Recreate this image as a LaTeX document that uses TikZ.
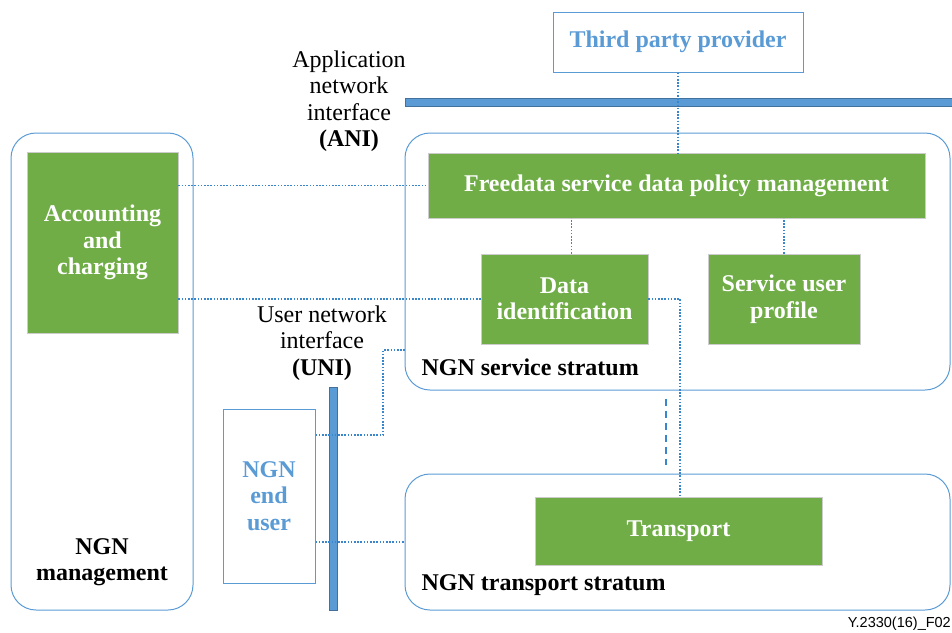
\documentclass[tikz,border=0pt]{standalone}
\usepackage{fontspec}
\setmainfont{Liberation Serif}
\setsansfont{Liberation Sans}
\definecolor{ngngreen}{HTML}{70AD47}
\definecolor{ngnblue}{HTML}{5B9BD5}
\definecolor{bardark}{HTML}{41719C}
\definecolor{linkblue}{HTML}{3A86CC}

\begin{document}
\begin{tikzpicture}[x=1pt, y=-1pt,
  font=\fontsize{24}{26.5}\selectfont,
  greenbox/.style={draw=black!20, line width=0.8pt, fill=ngngreen, text=white,
    font=\fontsize{24}{26.5}\selectfont\bfseries, align=center, inner sep=0pt},
  stratum/.style={draw=ngnblue, line width=1pt, rounded corners=25pt, inner sep=0pt},
  ifbar/.style={draw=bardark, fill=ngnblue, line width=0.8pt, inner sep=0pt},
  link/.style={linkblue, dash pattern=on 1.6pt off 1.6pt, line width=1.4pt}]

  \useasboundingbox (0,0) rectangle (952,632);

  % Third party provider
  \node[draw=ngnblue, line width=1pt, minimum width=250pt, minimum height=60pt,
    text=ngnblue, font=\fontsize{24}{26.5}\selectfont\bfseries] (tpp) at (678,42) {Third party provider};

  % Application network interface
  \node[ifbar, minimum width=547pt, minimum height=8pt] (ani) at (678.5,102) {};
  \node[align=center] (anilabel) at (349,101) {Application\\network\\interface\\\textbf{(ANI)}};

  % NGN management
  \node[stratum, minimum width=182pt, minimum height=477pt] (mgmt) at (102,371.5) {};
  \node[greenbox, minimum width=151pt, minimum height=181pt] (acct) at (102.5,242.5) {Accounting\\and\\charging};
  \node[align=center, font=\fontsize{24}{26.5}\selectfont\bfseries] (mgmtlabel) at (102,562) {NGN\\management};

  % NGN service stratum
  \node[stratum, minimum width=545pt, minimum height=257pt] (service) at (677.5,261.5) {};
  \node[greenbox, minimum width=497pt, minimum height=65pt] (policy) at (676.5,185.5) {Freedata service data policy management};
  \node[greenbox, minimum width=167pt, minimum height=90pt] (dataid) at (564.5,299) {Data\\identification};
  \node[greenbox, minimum width=152pt, minimum height=90pt] (profile) at (784,299) {Service user\\profile};
  \node[anchor=west, font=\fontsize{24}{26.5}\selectfont\bfseries] (servicelabel) at (418,367) {NGN service stratum};

  % NGN transport stratum
  \node[stratum, minimum width=545pt, minimum height=136pt] (transtratum) at (677.5,542) {};
  \node[greenbox, minimum width=287pt, minimum height=68pt] (transport) at (678.5,531) {Transport};
  \node[anchor=west, font=\fontsize{24}{26.5}\selectfont\bfseries] (translabel) at (418,585) {NGN transport stratum};

  % NGN end user and user network interface
  \node[draw=ngnblue, line width=1pt, minimum width=92pt, minimum height=174pt, align=center,
    text=ngnblue, font=\fontsize{24}{26.5}\selectfont\bfseries] (enduser) at (269,496) {NGN\\end\\user};
  \node[ifbar, minimum width=8pt, minimum height=223pt] (uni) at (333,498.5) {};
  \node[align=center] (unilabel) at (322,343) {User network\\interface\\\textbf{(UNI)}};

  % Links
  \draw[link] (tpp.south) -- (tpp.south |- policy.north);
  \draw[link] ([xshift=7pt]dataid.north) -- ([xshift=7pt]dataid.north |- policy.south);
  \draw[link] (profile.north) -- (profile.north |- policy.south);
  \draw[link] (acct.east |- policy.west) -- (policy.west);
  \draw[link] (acct.east |- dataid.west) -- (dataid.west);
  \draw[link] (dataid.east) -| ([xshift=1.5pt]transport.north);
  \coordinate (bend) at (383,350);
  \draw[link] ([yshift=61pt]enduser.east) -| (bend) -- (service.west |- bend);
  \draw[link] (enduser.east |- transtratum.west) -- (transtratum.west);
  \draw[linkblue, line width=1.4pt, dash pattern=on 7pt off 5pt]
    ([xshift=-11.5pt,yshift=-8pt]service.south) -- ([xshift=-11.5pt,yshift=9pt]transtratum.north);

  % Figure tag
  \node[anchor=south east, inner sep=1pt, font=\fontsize{14.5}{16}\selectfont\sffamily] (tag) at (952,632) {Y.2330(16)\_F02};

\end{tikzpicture}
\end{document}
